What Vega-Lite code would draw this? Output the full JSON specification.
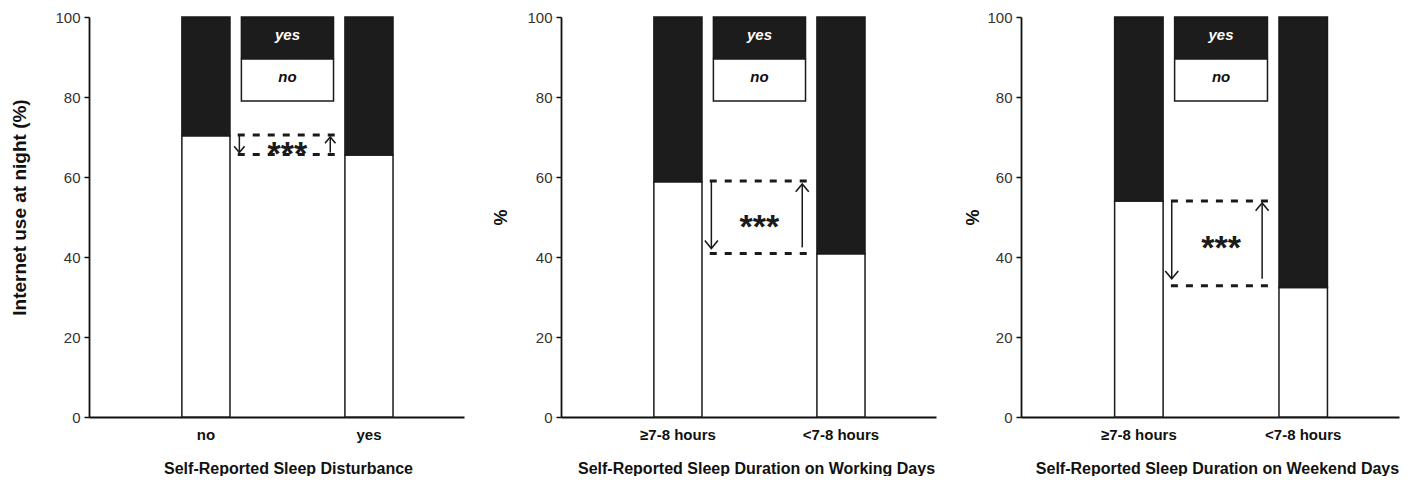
{
  "$schema": "https://vega.github.io/schema/vega-lite/v6.json",
  "padding": {"left": 10, "top": 10, "right": 5, "bottom": 0},
  "spacing": 28,
  "config": {
    "view": {"stroke": null},
    "font": "Liberation Sans",
    "axis": {"grid": false, "domainColor": "#111111", "domainWidth": 1.8},
    "axisY": {"tickSize": 5, "tickColor": "#111111", "tickWidth": 1.5, "labelFontSize": 15, "labelColor": "#333333", "labelPadding": 4, "titleFontSize": 18, "titleFontWeight": "bold", "titleColor": "#111111"},
    "axisX": {"ticks": false, "labelFontSize": 15, "labelFontWeight": "bold", "labelColor": "#111111", "labelPadding": 10, "labelAngle": 0, "titleFontSize": 16, "titleFontWeight": "bold", "titleColor": "#111111", "titlePadding": 18}
  },
  "datasets": {
    "bars": [
      {"panel": "p1", "group": "no", "use": "no", "pct": 70.3},
      {"panel": "p1", "group": "no", "use": "yes", "pct": 29.7},
      {"panel": "p1", "group": "yes", "use": "no", "pct": 65.5},
      {"panel": "p1", "group": "yes", "use": "yes", "pct": 34.5},
      {"panel": "p2", "group": "≥7-8 hours", "use": "no", "pct": 58.8},
      {"panel": "p2", "group": "≥7-8 hours", "use": "yes", "pct": 41.2},
      {"panel": "p2", "group": "<7-8 hours", "use": "no", "pct": 40.8},
      {"panel": "p2", "group": "<7-8 hours", "use": "yes", "pct": 59.2},
      {"panel": "p3", "group": "≥7-8 hours", "use": "no", "pct": 54.0},
      {"panel": "p3", "group": "≥7-8 hours", "use": "yes", "pct": 46.0},
      {"panel": "p3", "group": "<7-8 hours", "use": "no", "pct": 32.4},
      {"panel": "p3", "group": "<7-8 hours", "use": "yes", "pct": 67.6}
    ],
    "legend": [
      {"group": " ", "use": "yes", "top": 100, "bottom": 89.7},
      {"group": " ", "use": "no", "top": 89.5, "bottom": 79}
    ],
    "annot": [
      {"panel": "p1", "group": " ", "hi": 70.5, "lo": 65.6, "star": 67.9},
      {"panel": "p2", "group": " ", "hi": 59.0, "lo": 40.9, "star": 49.8},
      {"panel": "p3", "group": " ", "hi": 54.0, "lo": 32.8, "star": 44.5}
    ]
  },
  "hconcat": [
    {
      "width": 375, "height": 400,
      "layer": [
        {
          "data": {"name": "bars"},
          "transform": [{"filter": "datum.panel === 'p1'"}],
          "mark": {"type": "bar", "width": {"band": 0.59}, "stroke": "#1a1a1a", "strokeWidth": 1.5},
          "encoding": {
            "x": {"field": "group", "type": "nominal", "sort": null, "scale": {"domain": ["no", " ", "yes"], "paddingInner": 0, "paddingOuter": 0.8, "align": 0.584}, "axis": {"values": ["no", "yes"], "titleX": 199}, "title": "Self-Reported Sleep Disturbance"},
            "y": {"field": "pct", "type": "quantitative", "stack": "zero", "scale": {"domain": [0, 100], "nice": false}, "axis": {"values": [0, 20, 40, 60, 80, 100], "titlePadding": 25, "titleFontSize": 19, "titleY": 190}, "title": "Internet use at night (%)"},
            "color": {"field": "use", "type": "nominal", "scale": {"domain": ["no", "yes"], "range": ["#ffffff", "#1c1c1c"]}, "legend": null},
            "order": {"field": "use", "sort": "ascending"}
          }
        },
        {
          "data": {"name": "legend"},
          "mark": {"type": "bar", "width": {"band": 1.13}, "stroke": "#1a1a1a", "strokeWidth": 1.5},
          "encoding": {
            "x": {"field": "group", "type": "nominal", "title": "Self-Reported Sleep Disturbance"},
            "y": {"field": "top", "type": "quantitative", "title": "Internet use at night (%)"},
            "y2": {"field": "bottom"},
            "color": {"field": "use", "type": "nominal", "legend": null}
          }
        },
        {
          "data": {"name": "legend"},
          "mark": {"type": "text", "fontSize": 15, "fontStyle": "italic", "fontWeight": "bold", "baseline": "middle", "dy": 18},
          "encoding": {
            "x": {"field": "group", "type": "nominal", "title": "Self-Reported Sleep Disturbance"},
            "y": {"field": "top", "type": "quantitative", "title": "Internet use at night (%)"},
            "text": {"field": "use"},
            "color": {"condition": {"test": "datum.use === 'yes'", "value": "#ffffff"}, "value": "#111111"}
          }
        },
        {
          "data": {"name": "annot"},
          "transform": [{"filter": "datum.panel === 'p1'"}],
          "mark": {"type": "rule", "strokeDash": [7, 8], "strokeWidth": 3, "color": "#1a1a1a"},
          "encoding": {
            "x": {"field": "group", "type": "nominal", "bandPosition": -0.11, "title": "Self-Reported Sleep Disturbance"},
            "x2": {"field": "group", "bandPosition": 1.1},
            "y": {"field": "hi", "type": "quantitative", "title": "Internet use at night (%)"}
          }
        },
        {
          "data": {"name": "annot"},
          "transform": [{"filter": "datum.panel === 'p1'"}],
          "mark": {"type": "rule", "strokeDash": [7, 8], "strokeWidth": 3, "color": "#1a1a1a"},
          "encoding": {
            "x": {"field": "group", "type": "nominal", "bandPosition": -0.11, "title": "Self-Reported Sleep Disturbance"},
            "x2": {"field": "group", "bandPosition": 1.1},
            "y": {"field": "lo", "type": "quantitative", "title": "Internet use at night (%)"}
          }
        },
        {
          "data": {"name": "annot"},
          "transform": [{"filter": "datum.panel === 'p1'"}],
          "mark": {"type": "rule", "strokeWidth": 1.5, "color": "#1a1a1a", "y2Offset": -2},
          "encoding": {
            "x": {"field": "group", "type": "nominal", "bandPosition": -0.09, "title": "Self-Reported Sleep Disturbance"},
            "y": {"field": "hi", "type": "quantitative", "title": "Internet use at night (%)"},
            "y2": {"field": "lo"}
          }
        },
        {
          "data": {"name": "annot"},
          "transform": [{"filter": "datum.panel === 'p1'"}],
          "mark": {"type": "point", "shape": "M-1,-1.2L0,0L1,-1.2", "size": 110, "filled": false, "opacity": 1, "strokeWidth": 1.6, "color": "#1a1a1a", "yOffset": -2},
          "encoding": {
            "x": {"field": "group", "type": "nominal", "bandPosition": -0.09, "title": "Self-Reported Sleep Disturbance"},
            "y": {"field": "lo", "type": "quantitative", "title": "Internet use at night (%)"}
          }
        },
        {
          "data": {"name": "annot"},
          "transform": [{"filter": "datum.panel === 'p1'"}],
          "mark": {"type": "rule", "strokeWidth": 1.5, "color": "#1a1a1a", "yOffset": -2, "y2Offset": 2},
          "encoding": {
            "x": {"field": "group", "type": "nominal", "bandPosition": 1.025, "title": "Self-Reported Sleep Disturbance"},
            "y": {"field": "lo", "type": "quantitative", "title": "Internet use at night (%)"},
            "y2": {"field": "hi"}
          }
        },
        {
          "data": {"name": "annot"},
          "transform": [{"filter": "datum.panel === 'p1'"}],
          "mark": {"type": "point", "shape": "M-1,1.2L0,0L1,1.2", "size": 110, "filled": false, "opacity": 1, "strokeWidth": 1.6, "color": "#1a1a1a", "yOffset": 2},
          "encoding": {
            "x": {"field": "group", "type": "nominal", "bandPosition": 1.025, "title": "Self-Reported Sleep Disturbance"},
            "y": {"field": "hi", "type": "quantitative", "title": "Internet use at night (%)"}
          }
        },
        {
          "data": {"name": "annot"},
          "transform": [{"filter": "datum.panel === 'p1'"}],
          "mark": {"type": "text", "text": "***", "fontSize": 34, "fontWeight": "bold", "baseline": "alphabetic", "dy": 20, "color": "#1a1a1a"},
          "encoding": {
            "x": {"field": "group", "type": "nominal", "title": "Self-Reported Sleep Disturbance"},
            "y": {"field": "star", "type": "quantitative", "title": "Internet use at night (%)"}
          }
        }
      ]
    },
    {
      "width": 375, "height": 400,
      "layer": [
        {
          "data": {"name": "bars"},
          "transform": [{"filter": "datum.panel === 'p2'"}],
          "mark": {"type": "bar", "width": {"band": 0.59}, "stroke": "#1a1a1a", "strokeWidth": 1.5},
          "encoding": {
            "x": {"field": "group", "type": "nominal", "sort": null, "scale": {"domain": ["≥7-8 hours", " ", "<7-8 hours"], "paddingInner": 0, "paddingOuter": 0.8, "align": 0.584}, "axis": {"values": ["≥7-8 hours", "<7-8 hours"], "titleX": 195}, "title": "Self-Reported Sleep Duration on Working Days"},
            "y": {"field": "pct", "type": "quantitative", "stack": "zero", "scale": {"domain": [0, 100], "nice": false}, "axis": {"values": [0, 20, 40, 60, 80, 100], "titlePadding": 16}, "title": "%"},
            "color": {"field": "use", "type": "nominal", "scale": {"domain": ["no", "yes"], "range": ["#ffffff", "#1c1c1c"]}, "legend": null},
            "order": {"field": "use", "sort": "ascending"}
          }
        },
        {
          "data": {"name": "legend"},
          "mark": {"type": "bar", "width": {"band": 1.13}, "stroke": "#1a1a1a", "strokeWidth": 1.5},
          "encoding": {
            "x": {"field": "group", "type": "nominal", "title": "Self-Reported Sleep Duration on Working Days"},
            "y": {"field": "top", "type": "quantitative", "title": "%"},
            "y2": {"field": "bottom"},
            "color": {"field": "use", "type": "nominal", "legend": null}
          }
        },
        {
          "data": {"name": "legend"},
          "mark": {"type": "text", "fontSize": 15, "fontStyle": "italic", "fontWeight": "bold", "baseline": "middle", "dy": 18},
          "encoding": {
            "x": {"field": "group", "type": "nominal", "title": "Self-Reported Sleep Duration on Working Days"},
            "y": {"field": "top", "type": "quantitative", "title": "%"},
            "text": {"field": "use"},
            "color": {"condition": {"test": "datum.use === 'yes'", "value": "#ffffff"}, "value": "#111111"}
          }
        },
        {
          "data": {"name": "annot"},
          "transform": [{"filter": "datum.panel === 'p2'"}],
          "mark": {"type": "rule", "strokeDash": [7, 8], "strokeWidth": 3, "color": "#1a1a1a"},
          "encoding": {
            "x": {"field": "group", "type": "nominal", "bandPosition": -0.11, "title": "Self-Reported Sleep Duration on Working Days"},
            "x2": {"field": "group", "bandPosition": 1.1},
            "y": {"field": "hi", "type": "quantitative", "title": "%"}
          }
        },
        {
          "data": {"name": "annot"},
          "transform": [{"filter": "datum.panel === 'p2'"}],
          "mark": {"type": "rule", "strokeDash": [7, 8], "strokeWidth": 3, "color": "#1a1a1a"},
          "encoding": {
            "x": {"field": "group", "type": "nominal", "bandPosition": -0.11, "title": "Self-Reported Sleep Duration on Working Days"},
            "x2": {"field": "group", "bandPosition": 1.1},
            "y": {"field": "lo", "type": "quantitative", "title": "%"}
          }
        },
        {
          "data": {"name": "annot"},
          "transform": [{"filter": "datum.panel === 'p2'"}],
          "mark": {"type": "rule", "strokeWidth": 1.5, "color": "#1a1a1a", "y2Offset": -5},
          "encoding": {
            "x": {"field": "group", "type": "nominal", "bandPosition": -0.09, "title": "Self-Reported Sleep Duration on Working Days"},
            "y": {"field": "hi", "type": "quantitative", "title": "%"},
            "y2": {"field": "lo"}
          }
        },
        {
          "data": {"name": "annot"},
          "transform": [{"filter": "datum.panel === 'p2'"}],
          "mark": {"type": "point", "shape": "M-1,-1.2L0,0L1,-1.2", "size": 170, "filled": false, "opacity": 1, "strokeWidth": 1.6, "color": "#1a1a1a", "yOffset": -5},
          "encoding": {
            "x": {"field": "group", "type": "nominal", "bandPosition": -0.09, "title": "Self-Reported Sleep Duration on Working Days"},
            "y": {"field": "lo", "type": "quantitative", "title": "%"}
          }
        },
        {
          "data": {"name": "annot"},
          "transform": [{"filter": "datum.panel === 'p2'"}],
          "mark": {"type": "rule", "strokeWidth": 1.5, "color": "#1a1a1a", "yOffset": -6, "y2Offset": 3},
          "encoding": {
            "x": {"field": "group", "type": "nominal", "bandPosition": 1.025, "title": "Self-Reported Sleep Duration on Working Days"},
            "y": {"field": "lo", "type": "quantitative", "title": "%"},
            "y2": {"field": "hi"}
          }
        },
        {
          "data": {"name": "annot"},
          "transform": [{"filter": "datum.panel === 'p2'"}],
          "mark": {"type": "point", "shape": "M-1,1.2L0,0L1,1.2", "size": 170, "filled": false, "opacity": 1, "strokeWidth": 1.6, "color": "#1a1a1a", "yOffset": 3},
          "encoding": {
            "x": {"field": "group", "type": "nominal", "bandPosition": 1.025, "title": "Self-Reported Sleep Duration on Working Days"},
            "y": {"field": "hi", "type": "quantitative", "title": "%"}
          }
        },
        {
          "data": {"name": "annot"},
          "transform": [{"filter": "datum.panel === 'p2'"}],
          "mark": {"type": "text", "text": "***", "fontSize": 34, "fontWeight": "bold", "baseline": "alphabetic", "dy": 20, "color": "#1a1a1a"},
          "encoding": {
            "x": {"field": "group", "type": "nominal", "title": "Self-Reported Sleep Duration on Working Days"},
            "y": {"field": "star", "type": "quantitative", "title": "%"}
          }
        }
      ]
    },
    {
      "width": 378, "height": 400,
      "layer": [
        {
          "data": {"name": "bars"},
          "transform": [{"filter": "datum.panel === 'p3'"}],
          "mark": {"type": "bar", "width": {"band": 0.59}, "stroke": "#1a1a1a", "strokeWidth": 1.5},
          "encoding": {
            "x": {"field": "group", "type": "nominal", "sort": null, "scale": {"domain": ["≥7-8 hours", " ", "<7-8 hours"], "paddingInner": 0, "paddingOuter": 0.8, "align": 0.584}, "axis": {"values": ["≥7-8 hours", "<7-8 hours"], "titleX": 196}, "title": "Self-Reported Sleep Duration on Weekend Days"},
            "y": {"field": "pct", "type": "quantitative", "stack": "zero", "scale": {"domain": [0, 100], "nice": false}, "axis": {"values": [0, 20, 40, 60, 80, 100], "titlePadding": 4}, "title": "%"},
            "color": {"field": "use", "type": "nominal", "scale": {"domain": ["no", "yes"], "range": ["#ffffff", "#1c1c1c"]}, "legend": null},
            "order": {"field": "use", "sort": "ascending"}
          }
        },
        {
          "data": {"name": "legend"},
          "mark": {"type": "bar", "width": {"band": 1.13}, "stroke": "#1a1a1a", "strokeWidth": 1.5},
          "encoding": {
            "x": {"field": "group", "type": "nominal", "title": "Self-Reported Sleep Duration on Weekend Days"},
            "y": {"field": "top", "type": "quantitative", "title": "%"},
            "y2": {"field": "bottom"},
            "color": {"field": "use", "type": "nominal", "legend": null}
          }
        },
        {
          "data": {"name": "legend"},
          "mark": {"type": "text", "fontSize": 15, "fontStyle": "italic", "fontWeight": "bold", "baseline": "middle", "dy": 18},
          "encoding": {
            "x": {"field": "group", "type": "nominal", "title": "Self-Reported Sleep Duration on Weekend Days"},
            "y": {"field": "top", "type": "quantitative", "title": "%"},
            "text": {"field": "use"},
            "color": {"condition": {"test": "datum.use === 'yes'", "value": "#ffffff"}, "value": "#111111"}
          }
        },
        {
          "data": {"name": "annot"},
          "transform": [{"filter": "datum.panel === 'p3'"}],
          "mark": {"type": "rule", "strokeDash": [7, 8], "strokeWidth": 3, "color": "#1a1a1a"},
          "encoding": {
            "x": {"field": "group", "type": "nominal", "bandPosition": -0.11, "title": "Self-Reported Sleep Duration on Weekend Days"},
            "x2": {"field": "group", "bandPosition": 1.1},
            "y": {"field": "hi", "type": "quantitative", "title": "%"}
          }
        },
        {
          "data": {"name": "annot"},
          "transform": [{"filter": "datum.panel === 'p3'"}],
          "mark": {"type": "rule", "strokeDash": [7, 8], "strokeWidth": 3, "color": "#1a1a1a"},
          "encoding": {
            "x": {"field": "group", "type": "nominal", "bandPosition": -0.11, "title": "Self-Reported Sleep Duration on Weekend Days"},
            "x2": {"field": "group", "bandPosition": 1.1},
            "y": {"field": "lo", "type": "quantitative", "title": "%"}
          }
        },
        {
          "data": {"name": "annot"},
          "transform": [{"filter": "datum.panel === 'p3'"}],
          "mark": {"type": "rule", "strokeWidth": 1.5, "color": "#1a1a1a", "y2Offset": -7},
          "encoding": {
            "x": {"field": "group", "type": "nominal", "bandPosition": -0.1, "title": "Self-Reported Sleep Duration on Weekend Days"},
            "y": {"field": "hi", "type": "quantitative", "title": "%"},
            "y2": {"field": "lo"}
          }
        },
        {
          "data": {"name": "annot"},
          "transform": [{"filter": "datum.panel === 'p3'"}],
          "mark": {"type": "point", "shape": "M-1,-1.2L0,0L1,-1.2", "size": 170, "filled": false, "opacity": 1, "strokeWidth": 1.6, "color": "#1a1a1a", "yOffset": -7},
          "encoding": {
            "x": {"field": "group", "type": "nominal", "bandPosition": -0.1, "title": "Self-Reported Sleep Duration on Weekend Days"},
            "y": {"field": "lo", "type": "quantitative", "title": "%"}
          }
        },
        {
          "data": {"name": "annot"},
          "transform": [{"filter": "datum.panel === 'p3'"}],
          "mark": {"type": "rule", "strokeWidth": 1.5, "color": "#1a1a1a", "yOffset": -7, "y2Offset": 2},
          "encoding": {
            "x": {"field": "group", "type": "nominal", "bandPosition": 1.0, "title": "Self-Reported Sleep Duration on Weekend Days"},
            "y": {"field": "lo", "type": "quantitative", "title": "%"},
            "y2": {"field": "hi"}
          }
        },
        {
          "data": {"name": "annot"},
          "transform": [{"filter": "datum.panel === 'p3'"}],
          "mark": {"type": "point", "shape": "M-1,1.2L0,0L1,1.2", "size": 170, "filled": false, "opacity": 1, "strokeWidth": 1.6, "color": "#1a1a1a", "yOffset": 2},
          "encoding": {
            "x": {"field": "group", "type": "nominal", "bandPosition": 1.0, "title": "Self-Reported Sleep Duration on Weekend Days"},
            "y": {"field": "hi", "type": "quantitative", "title": "%"}
          }
        },
        {
          "data": {"name": "annot"},
          "transform": [{"filter": "datum.panel === 'p3'"}],
          "mark": {"type": "text", "text": "***", "fontSize": 34, "fontWeight": "bold", "baseline": "alphabetic", "dy": 20, "color": "#1a1a1a"},
          "encoding": {
            "x": {"field": "group", "type": "nominal", "title": "Self-Reported Sleep Duration on Weekend Days"},
            "y": {"field": "star", "type": "quantitative", "title": "%"}
          }
        }
      ]
    }
  ]
}
